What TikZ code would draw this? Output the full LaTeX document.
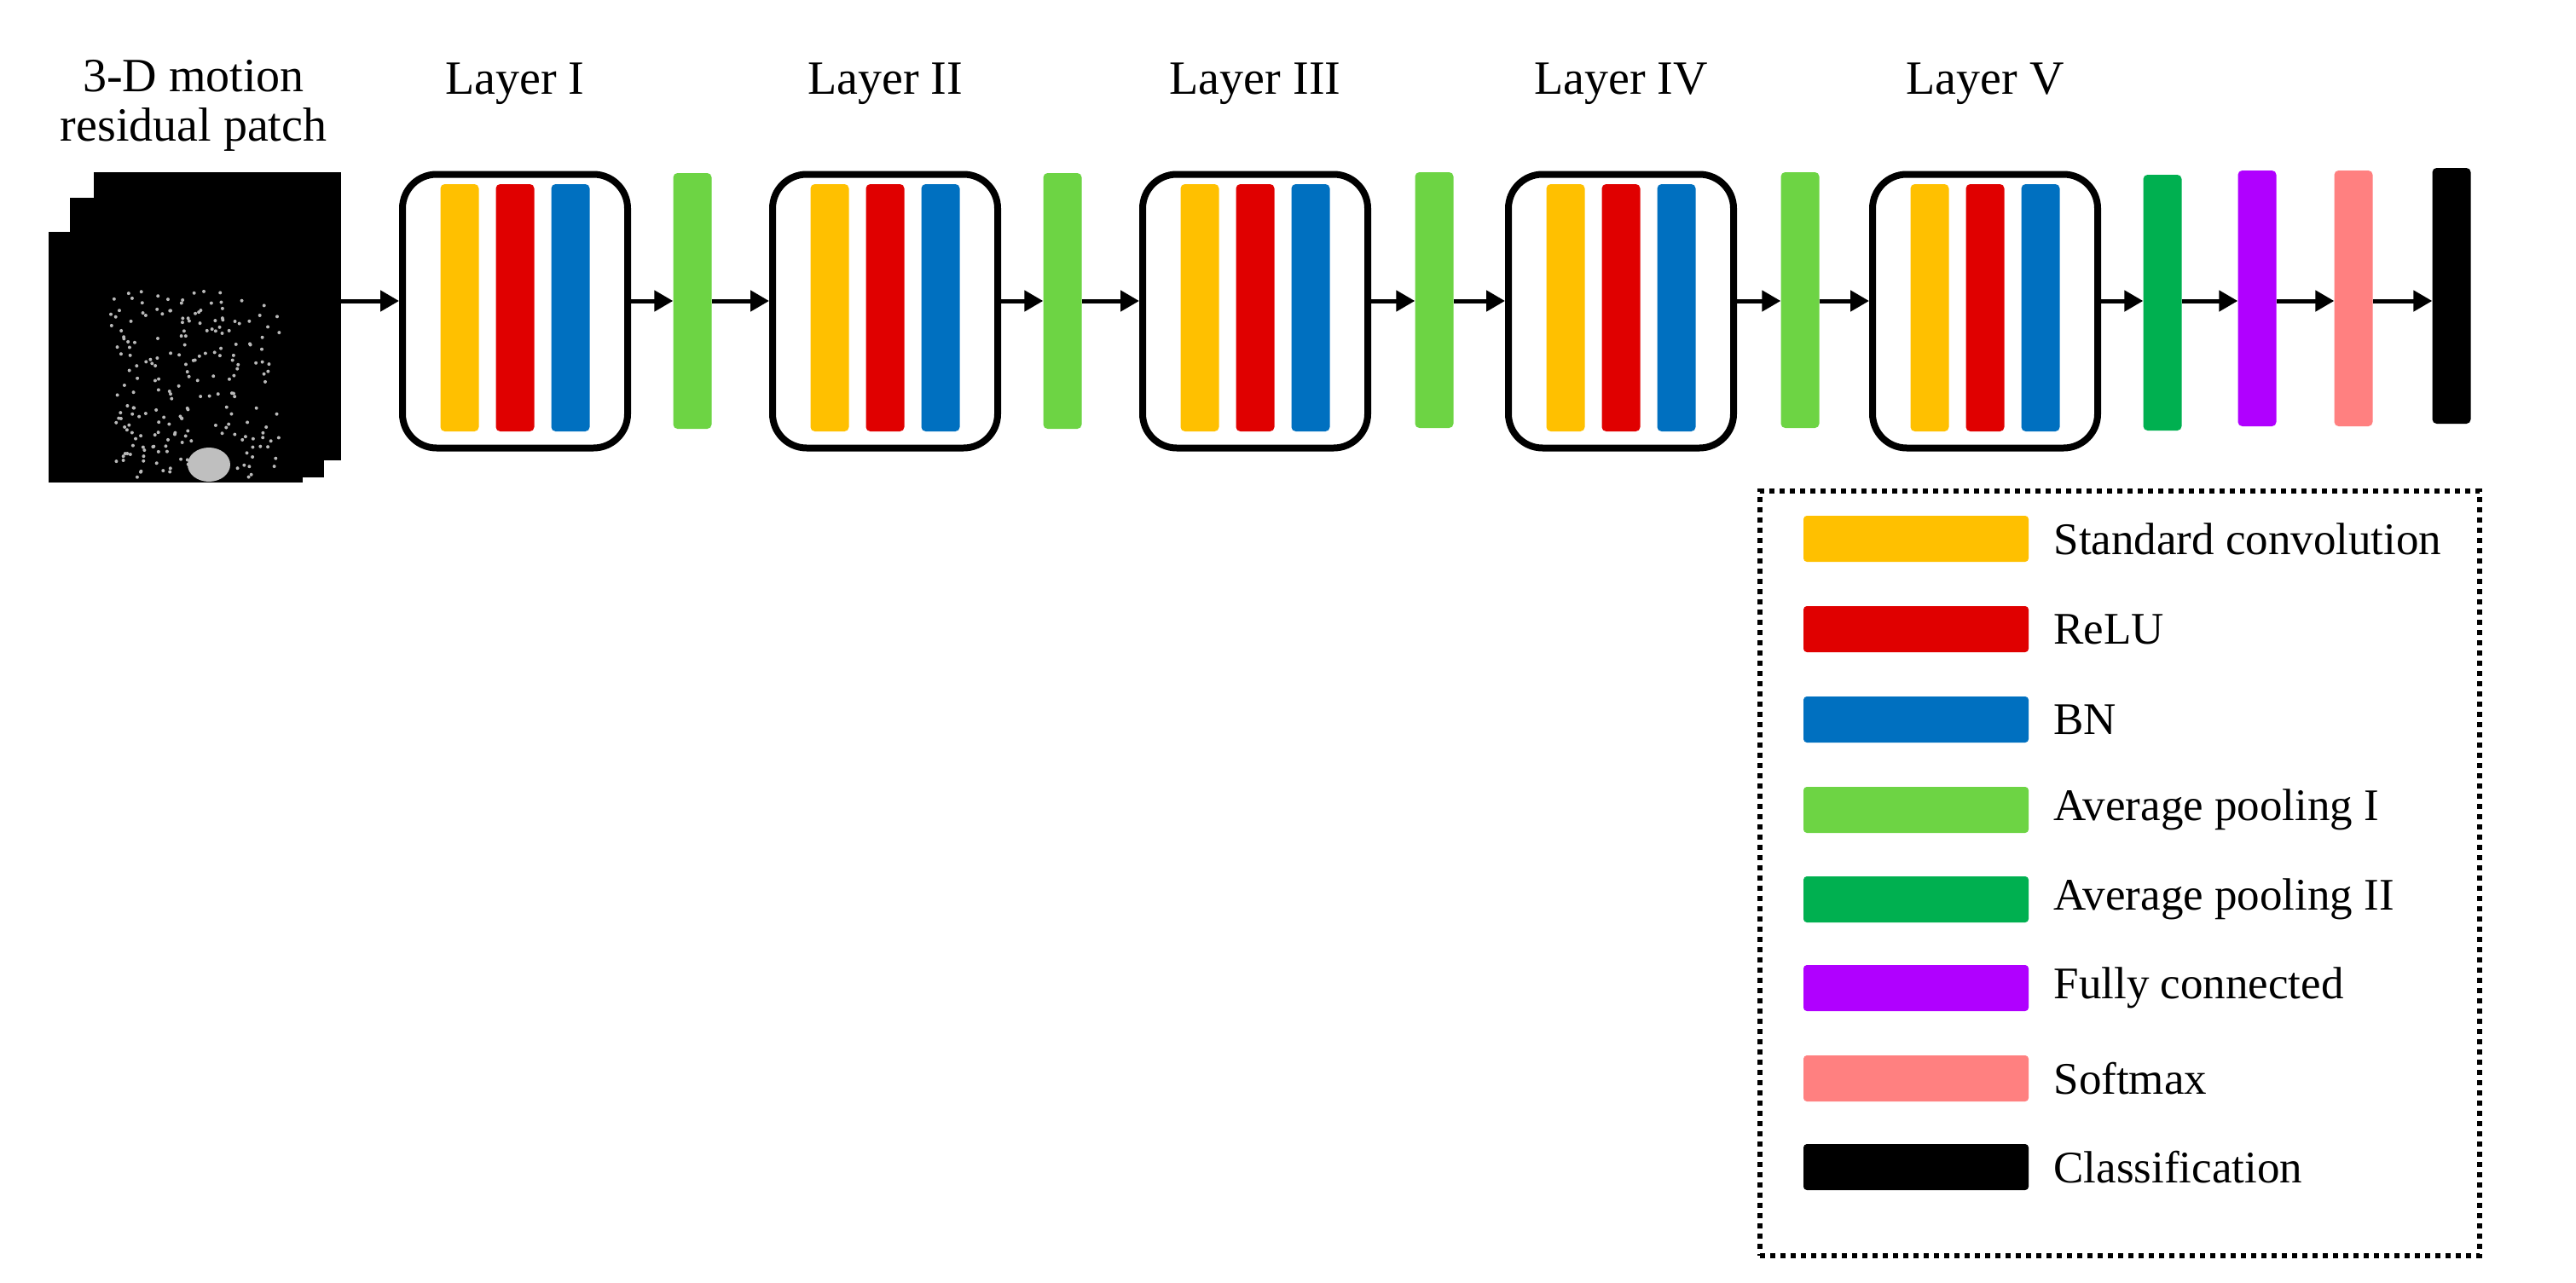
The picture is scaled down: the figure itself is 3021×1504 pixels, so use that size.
\documentclass[tikz,border=0pt]{standalone}
\usepackage{fontspec}
\setmainfont{Liberation Serif}
\usetikzlibrary{arrows.meta}
\definecolor{cy}{HTML}{FFC000}
\definecolor{cr}{HTML}{E00000}
\definecolor{cb}{HTML}{0070C0}
\definecolor{cg}{HTML}{6DD444}
\definecolor{cdg}{HTML}{00B050}
\definecolor{cp}{HTML}{B000FF}
\definecolor{cpk}{HTML}{FF8080}
\begin{document}
\begin{tikzpicture}[x=1pt,y=-1pt,
  bar/.style={fill=#1,draw=none,rounded corners=5pt,minimum width=45pt,minimum height=300pt,inner sep=0pt},
  sw/.style={fill=#1,draw=none,rounded corners=4pt,minimum width=264pt,minimum height=54pt,inner sep=0pt},
  lbox/.style={draw,line width=8pt,rounded corners=40pt,minimum width=264pt,minimum height=321pt,inner sep=0pt},
  ttl/.style={font=\fontsize{56}{58}\selectfont},
  lgt/.style={font=\fontsize{53}{58}\selectfont,anchor=west},
  arr/.style={-{Triangle[length=22pt,width=24pt]},line width=5pt}]
\useasboundingbox (0,0) rectangle (3021,1504);
% image patch
\fill[black] (110,202) rectangle (400,540);
\fill[black] (82,232) rectangle (380,560);
\fill[black] (57,272) rectangle (355,566);
\coordinate (img) at (400,353);
\pgfmathsetseed{7}
\foreach \i in {1,...,220}{
  \pgfmathsetmacro{\px}{130+200*rnd}
  \pgfmathsetmacro{\py}{340+220*rnd}
  \fill[gray!55] (\px,\py) circle (2pt);
}
\fill[gray!50] (245,545) ellipse (25 and 20);
\node[ttl,align=center] (title) at (227,124) {3-D motion\\residual patch};
% layers
\foreach \n/\x/\lab in {L1/604/Layer I,L2/1038/Layer II,L3/1472/Layer III,L4/1901/Layer IV,L5/2328/Layer V}{
  \node[lbox] (\n) at (\x,365) {};
  \node[bar=cy,minimum height=290pt] (\n a) at (\x-65,361) {};
  \node[bar=cr,minimum height=290pt] (\n b) at (\x,361) {};
  \node[bar=cb,minimum height=290pt] (\n c) at (\x+65,361) {};
  \node[ttl] (\n t) at (\x,98) {\lab};
}
\node[bar=cg] (g1) at (812,353) {};
\node[bar=cg] (g2) at (1246,353) {};
\node[bar=cg] (g3) at (1682,352) {};
\node[bar=cg] (g4) at (2111,352) {};
\node[bar=cdg] (dg) at (2536,355) {};
\node[bar=cp] (fc) at (2647,350) {};
\node[bar=cpk] (sm) at (2760,350) {};
\node[bar=black] (cl) at (2875,347) {};
\draw[arr] (img) -- (L1.west|-img);
\foreach \a/\b in {L1/g1,g1/L2,L2/g2,g2/L3,L3/g3,g3/L4,L4/g4,g4/L5,L5/dg,dg/fc,fc/sm,sm/cl}{
  \draw[arr] (\a.east|-0,353) -- (\b.west|-0,353);
}
% legend
\node[draw,dash pattern=on 6pt off 6pt,line width=6pt,minimum width=844pt,minimum height=897pt,inner sep=0pt] (leg) at (2486,1024) {};
\foreach \y/\c/\t [count=\k] in {632/cy/Standard convolution,738/cr/ReLU,844/cb/BN,950/cg/Average pooling I,1055/cdg/Average pooling II,1159/cp/Fully connected,1265/cpk/Softmax,1369/black/Classification}{
  \node[sw=\c] (s\k) at (2247,\y) {};
  \node[lgt] (t\k) at (2405,\y) {\t};
}
\end{tikzpicture}
\end{document}
